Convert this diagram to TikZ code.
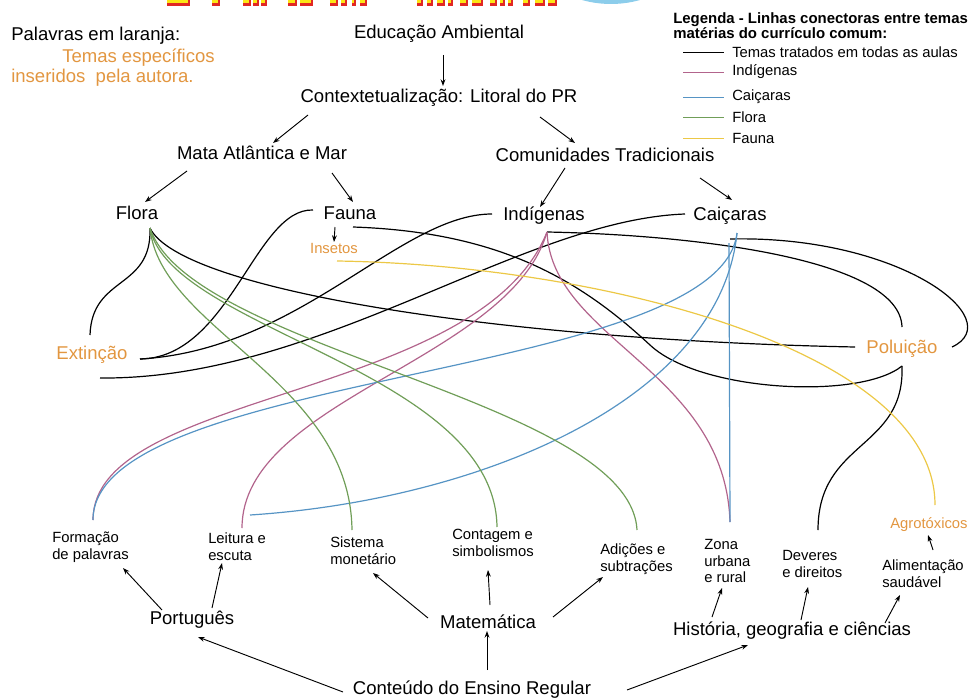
\documentclass[tikz,border=0pt]{standalone}
\usepackage{fontspec}
\setmainfont{Liberation Sans}
\definecolor{ThemeColor}{RGB}{226,150,64}
\definecolor{IndigenaColor}{RGB}{178,100,140}
\definecolor{CaicaraColor}{RGB}{86,148,196}
\definecolor{FloraColor}{RGB}{112,158,88}
\definecolor{FaunaColor}{RGB}{236,200,70}
\definecolor{BannerRed}{RGB}{225,40,35}
\definecolor{BannerYellow}{RGB}{252,230,20}
\definecolor{BannerBlue}{RGB}{140,205,235}
\usetikzlibrary{arrows.meta}
\tikzstyle{topic} = [font=\fontsize{13.9}{16}\selectfont, inner sep=0pt]
\tikzstyle{theme} = [topic, text=ThemeColor]
\tikzstyle{subtopic} = [font=\fontsize{11.1}{12.7}\selectfont, inner sep=0pt, anchor=west, align=left]
\tikzstyle{legendtitle} = [font=\bfseries\fontsize{11.2}{11.3}\selectfont, inner sep=0pt, anchor=west, align=left]
\tikzstyle{arrow} = [line width=0.7pt, black, ->, >={Stealth[length=5pt, width=3.6pt]}]
\tikzstyle{link} = [line width=0.9pt]
\tikzstyle{legendline} = [line width=0.6pt]

\begin{document}
\begin{tikzpicture}[x=0.75pt, y=-0.75pt]
    \useasboundingbox (0,0) rectangle (970,699);

    % Cut-off banner at the top
    \begin{scope}
        \clip (0,0) rectangle (970,699);
        \fill[BannerBlue] (611,-103) circle (107);
        \foreach \a/\b in {167/190, 212/220, 243/251, 253/259, 261/267, 288/297, 300/313, 330/338, 341/347, 352/356, 360/367, 417/423, 427/433, 437/445, 448/453, 460/468, 472/483, 490/497, 500/505, 508/513, 523/530, 535/545, 548/557}{
            \fill[BannerRed] (\a,0) rectangle (\b,6);
            \fill[BannerYellow] (\a,0) rectangle ({\b-2},3.5);
        }
    \end{scope}

    % Notes
    \node[topic, anchor=west] (palavras) at (11,36) {Palavras em laranja:};
    \node[theme, anchor=west] (temas) at (62,58) {Temas específicos};
    \node[theme, anchor=west] (inseridos) at (11,78) {inseridos\ \ pela autora.};

    % Legend
    \node[legendtitle] (legtitle) at (673,25.5) {Legenda - Linhas conectoras entre temas\\matérias do currículo comum:};
    \node[subtopic] (leg-todas) at (732,52) {Temas tratados em todas as aulas};
    \node[subtopic] (leg-indig) at (732,72) {Indígenas};
    \node[subtopic] (leg-caic) at (732,97) {Caiçaras};
    \node[subtopic] (leg-flora) at (732,117) {Flora};
    \node[subtopic] (leg-fauna) at (732,138) {Fauna};
    \draw[legendline, black] ([shift={(-49,0)}]leg-todas.west) -- ([shift={(-8,0)}]leg-todas.west);
    \draw[legendline, IndigenaColor] ([shift={(-49,0)}]leg-indig.west) -- ([shift={(-8,0)}]leg-indig.west);
    \draw[legendline, CaicaraColor] ([shift={(-49,0)}]leg-caic.west) -- ([shift={(-8,0)}]leg-caic.west);
    \draw[legendline, FloraColor] ([shift={(-49,0)}]leg-flora.west) -- ([shift={(-8,0)}]leg-flora.west);
    \draw[legendline, FaunaColor] ([shift={(-49,0)}]leg-fauna.west) -- ([shift={(-8,0)}]leg-fauna.west);

    % Upper tree
    \node[topic] (educ) at (439,34) {Educação Ambiental};
    \node[topic] (contex) at (439,98) {Contextetualização: Litoral do PR};
    \node[topic] (mata) at (262,153) {Mata Atlântica e Mar};
    \node[topic] (comun) at (605,155) {Comunidades Tradicionais};
    \node[topic] (flora) at (137,213) {Flora};
    \node[topic] (fauna) at (350,213) {Fauna};
    \node[topic] (indig) at (544,216) {Indígenas};
    \node[topic] (caic) at (730,216) {Caiçaras};
    \node[subtopic, anchor=center, text=ThemeColor] (insetos) at (334,248) {Insetos};
    \node[theme] (extincao) at (92,355) {Extinção};
    \node[theme] (poluicao) at (902,349) {Poluição};

    \draw[arrow] ([shift={(4,21)}]educ.center) -- ([shift={(4,-12)}]contex.center);
    \draw[arrow] ([shift={(-131,17)}]contex.center) -- ([shift={(11,-10)}]mata.center);
    \draw[arrow] ([shift={(101,19)}]contex.center) -- ([shift={(-30,-12)}]comun.center);
    \draw[arrow] ([shift={(-75,18)}]mata.center) -- ([shift={(8,-11)}]flora.center);
    \draw[arrow] ([shift={(70,20)}]mata.center) -- ([shift={(3,-11)}]fauna.center);
    \draw[arrow] ([shift={(-40,13)}]comun.center) -- ([shift={(-4,-9)}]indig.center);
    \draw[arrow] ([shift={(95,23)}]comun.center) -- ([shift={(2,-16)}]caic.center);
    \draw[arrow] ([shift={(-15,14)}]fauna.center) -- ([shift={(0,-6)}]insetos.center);

    % Lower tree
    \node[topic] (conteudo) at (472,690) {Conteúdo do Ensino Regular};
    \node[topic] (portugues) at (192,620) {Português};
    \node[topic] (matematica) at (488,622) {Matemática};
    \node[topic] (historia) at (792,631) {História, geografia e ciências};
    \node[subtopic] (formacao) at (52,547) {Formação\\de palavras};
    \node[subtopic] (leitura) at (208,547) {Leitura e\\escuta};
    \node[subtopic] (sistema) at (330,551) {Sistema\\monetário};
    \node[subtopic] (contagem) at (452,543) {Contagem e\\simbolismos};
    \node[subtopic] (adicoes) at (600,559) {Adições e\\subtrações};
    \node[subtopic] (zona) at (704,561) {Zona\\urbana\\e rural};
    \node[subtopic] (deveres) at (782,564) {Deveres\\e direitos};
    \node[subtopic, text=ThemeColor] (agrotox) at (890,525) {Agrotóxicos};
    \node[subtopic] (alimentacao) at (882,574) {Alimentação\\saudável};

    \draw[arrow] ([shift={(15,-20)}]conteudo.center) -- ([shift={(-1,9)}]matematica.center);
    \draw[arrow] ([shift={(-129,2)}]conteudo.center) -- ([shift={(6,17)}]portugues.center);
    \draw[arrow] ([shift={(155,0)}]conteudo.center) -- ([shift={(-44,14)}]historia.center);
    \draw[arrow] ([shift={(-30,-10)}]portugues.center) -- ([shift={(71,21)}]formacao.west);
    \draw[arrow] ([shift={(20,-12)}]portugues.center) -- ([shift={(14,16)}]leitura.west);
    \draw[arrow] ([shift={(-60,-4)}]matematica.center) -- ([shift={(43,22)}]sistema.west);
    \draw[arrow] ([shift={(2,-17)}]matematica.center) -- ([shift={(36,27)}]contagem.west);
    \draw[arrow] ([shift={(65,-5)}]matematica.center) -- ([shift={(3,18)}]adicoes.west);
    \draw[arrow] ([shift={(-80,-14)}]historia.center) -- ([shift={(18,27)}]zona.west);
    \draw[arrow] ([shift={(9,-11)}]historia.center) -- ([shift={(26,23)}]deveres.west);
    \draw[arrow] ([shift={(93,-8)}]historia.center) -- ([shift={(18,21)}]alimentacao.west);
    \draw[arrow] ([shift={(51,-24)}]alimentacao.west) -- ([shift={(38,10)}]agrotox.west);

    % Connector ends
    \coordinate (florahub) at ([shift={(13,15)}]flora.center);
    \coordinate (fauna-l) at ([shift={(-37,-3)}]fauna.center);
    \coordinate (fauna-r) at ([shift={(3,14)}]fauna.center);
    \coordinate (indig-l) at ([shift={(-52,-2)}]indig.center);
    \coordinate (indighub) at ([shift={(3,16)}]indig.center);
    \coordinate (caic-l) at ([shift={(-45,-2)}]caic.center);
    \coordinate (caichub) at ([shift={(7,17)}]caic.center);
    \coordinate (caic-v) at ([shift={(-1,27)}]caic.center);
    \coordinate (caic-r) at ([shift={(0,23)}]caic.center);
    \coordinate (insetos-r) at ([shift={(3,13)}]insetos.center);
    \coordinate (extincao-t) at ([shift={(-2,-20)}]extincao.center);
    \coordinate (extincao-r) at ([shift={(48,4)}]extincao.center);
    \coordinate (extincao-b) at ([shift={(8,23)}]extincao.center);
    \coordinate (poluicao-l) at ([shift={(-47,-2)}]poluicao.center);
    \coordinate (poluicao-t) at ([shift={(0,-22)}]poluicao.center);
    \coordinate (poluicao-b) at ([shift={(0,17)}]poluicao.center);
    \coordinate (poluicao-r) at ([shift={(50,-2)}]poluicao.center);
    \coordinate (formacao-t) at ([shift={(41,-27)}]formacao.west);
    \coordinate (leitura-t) at ([shift={(34,-19)}]leitura.west);
    \coordinate (leitura-r) at ([shift={(42,-32)}]leitura.west);
    \coordinate (sistema-t) at ([shift={(22,-21)}]sistema.west);
    \coordinate (contagem-t) at ([shift={(45,-16)}]contagem.west);
    \coordinate (adicoes-t) at ([shift={(37,-29)}]adicoes.west);
    \coordinate (zona-t) at ([shift={(26,-39)}]zona.west);
    \coordinate (deveres-t) at ([shift={(36,-34)}]deveres.west);
    \coordinate (agrotox-t) at ([shift={(45,-20)}]agrotox.west);

    % Themes in every lesson
    \draw[link, black] (florahub) .. controls +(2,62) and +(2,-60) .. (extincao-t);
    \draw[link, black] (fauna-l) .. controls +(-58,-2) and +(90,-1) .. (extincao-r);
    \draw[link, black] (indig-l) .. controls +(-92,0) and +(160,-9) .. (extincao-r);
    \draw[link, black] (caic-l) .. controls +(-165,6) and +(220,2) .. (extincao-b);
    \draw[link, black] (florahub) .. controls +(30,62) and +(-355,-7) .. (poluicao-l);
    \draw[link, black] (fauna-r) .. controls +(147,5) and +(-70,-65) .. (650,345) .. controls +(50,47) and +(-42,34) .. (poluicao-b);
    \draw[link, black] (indighub) .. controls +(153,3) and +(-2,-67) .. (poluicao-t);
    \draw[link, black] (caic-r) .. controls +(170,-4) and +(58,-27) .. (poluicao-r);
    \draw[link, black] (poluicao-b) .. controls +(3,84) and +(0,-90) .. (deveres-t);

    % Indigenas
    \draw[link, IndigenaColor] (indighub) .. controls +(-67,168) and +(0,-130) .. (formacao-t);
    \draw[link, IndigenaColor] (indighub) .. controls +(-37,128) and +(0,-128) .. (leitura-t);
    \draw[link, IndigenaColor] (indighub) .. controls +(5,108) and +(-5,-152) .. (zona-t);

    % Caicaras
    \draw[link, CaicaraColor] (caichub) .. controls +(-17,147) and +(0,-150) .. (formacao-t);
    \draw[link, CaicaraColor] (caichub) .. controls +(-17,167) and +(230,-15) .. (leitura-r);
    \draw[link, CaicaraColor] (caic-v) -- (zona-t);

    % Flora
    \draw[link, FloraColor] (florahub) .. controls +(10,102) and +(-2,-150) .. (sistema-t);
    \draw[link, FloraColor] (florahub) .. controls +(20,102) and +(-2,-157) .. (contagem-t);
    \draw[link, FloraColor] (florahub) .. controls +(40,122) and +(-7,-130) .. (adicoes-t);

    % Fauna
    \draw[link, FaunaColor] (insetos-r) .. controls +(263,4) and +(0,-155) .. (agrotox-t);
\end{tikzpicture}
\end{document}
